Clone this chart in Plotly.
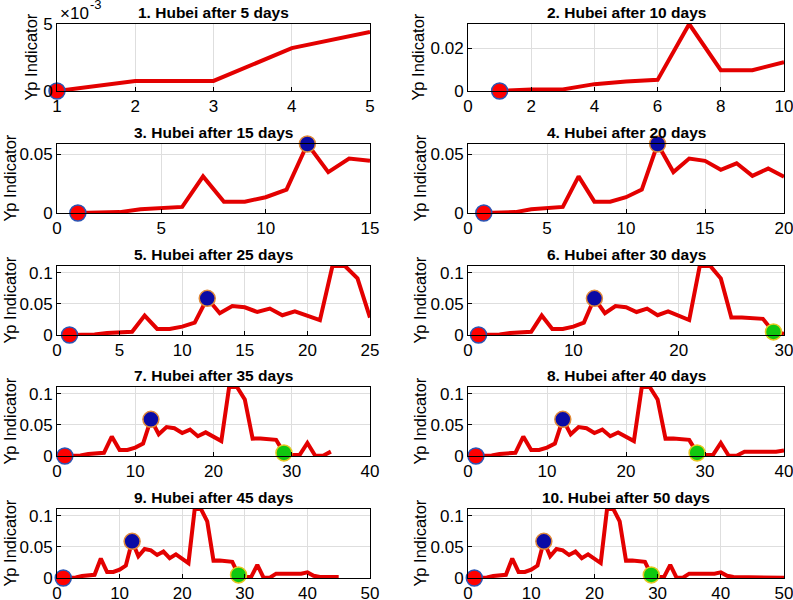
import plotly.graph_objects as go

# Yp indicator per day (days 1..50)
yp = [0.0, 0.00075, 0.00075, 0.0032, 0.0044, 0.0052, 0.0313, 0.0097, 0.0097, 0.0135,
      0.020, 0.059, 0.035, 0.0466, 0.0446, 0.037, 0.0425, 0.0318, 0.038, 0.031,
      0.024, 0.111, 0.111, 0.091, 0.028, 0.0283, 0.0275, 0.026, 0.005, 0.002,
      0.0015, 0.021, 0.0005, 0.0005, 0.007, 0.007, 0.0065, 0.006, 0.007, 0.009,
      0.0035, 0.0015, 0.0015, 0.0015, 0.0015, 0.0012, 0.001, 0.0008, 0.0005, 0.0003]
days = list(range(1, 51))

panel_days = [5, 10, 15, 20, 25, 30, 35, 40, 45, 50]
x_ranges = [[1, 5], [0, 10], [0, 15], [0, 20], [0, 25], [0, 30], [0, 40], [0, 40], [0, 50], [0, 50]]
x_tick0 = [1, 0, 0, 0, 0, 0, 0, 0, 0, 0]
x_dticks = [1, 2, 5, 5, 5, 10, 10, 10, 10, 10]
y_maxes = [0.005, 0.0313, 0.059, 0.059, 0.111, 0.111, 0.111, 0.111, 0.111, 0.111]
y_tickvals = [[0, 0.005], [0, 0.02], [0, 0.05], [0, 0.05]] + [[0, 0.05, 0.1]] * 6
y_ticktext = [["0", "5"], ["0", "0.02"], ["0", "0.05"], ["0", "0.05"]] + [["0", "0.05", "0.1"]] * 6

mark_days = [1, 12, 29]
mark_fill = ["#ff0000", "#0a0aa5", "#10c810"]
mark_edge = ["#2a55b5", "#e08a3a", "#e8c820"]

FONT = "Liberation Sans, Arial, sans-serif"
W, H = 793, 600
col_px = [(57, 370), (468, 784)]
row_px = [(24, 91), (144, 213), (266, 335), (387, 456), (509, 578)]
ylabel_off = [26, 50, 48, 49, 48, 49, 48, 49, 48, 49]

fig = go.Figure()
annotations = []
layout = {}

for i, n in enumerate(panel_days):
    r, c = divmod(i, 2)
    ax = "" if i == 0 else str(i + 1)
    xd = [col_px[c][0] / W, col_px[c][1] / W]
    yd = [1 - row_px[r][1] / H, 1 - row_px[r][0] / H]
    fig.add_trace(go.Scatter(
        x=days[:n], y=yp[:n], mode="lines",
        line=dict(color="#e30000", width=4),
        xaxis="x" + ax, yaxis="y" + ax, showlegend=False, cliponaxis=False,
    ))
    md = [d for d in mark_days if d <= n]
    k = len(md)
    fig.add_trace(go.Scatter(
        x=md, y=[yp[d - 1] for d in md], mode="markers",
        marker=dict(size=16, color=mark_fill[:k],
                    line=dict(color=mark_edge[:k], width=1.5)),
        xaxis="x" + ax, yaxis="y" + ax, showlegend=False, cliponaxis=False,
    ))
    common = dict(showline=True, mirror=True, linecolor="black", linewidth=1,
                  ticks="inside", ticklen=4, tickcolor="black",
                  showgrid=True, gridcolor="#dedede", gridwidth=1,
                  ticklabeloverflow="allow",
                  zeroline=False, tickfont=dict(family=FONT, size=17, color="black"))
    layout["xaxis" + ax] = dict(domain=xd, anchor="y" + ax, range=x_ranges[i],
                                tickmode="linear", tick0=x_tick0[i], dtick=x_dticks[i],
                                **common)
    layout["yaxis" + ax] = dict(domain=yd, anchor="x" + ax, range=[0, y_maxes[i]],
                                tickmode="array", tickvals=y_tickvals[i],
                                ticktext=y_ticktext[i], **common)
    annotations.append(dict(
        text="<b>%d. Hubei after %d days</b>" % (i + 1, n),
        x=(xd[0] + xd[1]) / 2, y=yd[1], xref="paper", yref="paper",
        xanchor="center", yanchor="bottom", yshift=1, showarrow=False,
        font=dict(family=FONT, size=15.5, color="black"),
    ))
    annotations.append(dict(
        text="Yp Indicator", textangle=-90,
        x=(col_px[c][0] - ylabel_off[i]) / W, y=(yd[0] + yd[1]) / 2,
        xref="paper", yref="paper",
        xanchor="center", yanchor="middle", showarrow=False,
        font=dict(family=FONT, size=16.5, color="black"),
    ))

# exponent label of panel 1
annotations.append(dict(
    text="×10", x=58 / W, y=1 - 13 / H,
    xref="paper", yref="paper", xanchor="left", yanchor="middle",
    showarrow=False, font=dict(family=FONT, size=17, color="black"),
))
annotations.append(dict(
    text="-3", x=88 / W, y=1 - 5 / H,
    xref="paper", yref="paper", xanchor="left", yanchor="middle",
    showarrow=False, font=dict(family=FONT, size=13, color="black"),
))

fig.update_layout(
    width=W, height=H, margin=dict(l=0, r=0, t=0, b=0, autoexpand=False),
    paper_bgcolor="white", plot_bgcolor="white",
    annotations=annotations, **layout,
)

fig.write_html(
    "out.html",
    config={"displayModeBar": False},
    post_script="document.body.style.margin='0';document.body.style.overflow='hidden';",
)
